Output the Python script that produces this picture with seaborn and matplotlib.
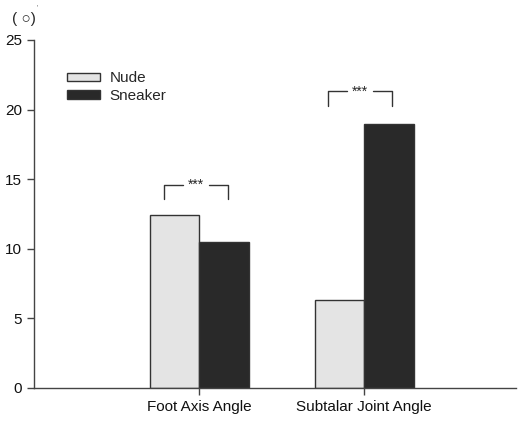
import matplotlib
matplotlib.use("Agg")
import matplotlib.pyplot as plt
import seaborn as sns
import pandas as pd
from matplotlib.patches import Patch

categories = ["Foot Axis Angle", "Subtalar Joint Angle"]
nude = [12.4, 6.3]
sneaker = [10.5, 19.0]
groups = ["Nude", "Sneaker"]
sig_labels = ["***", "***"]

df = pd.DataFrame({
    "angle": categories * 2,
    "cond": ["Nude"] * 2 + ["Sneaker"] * 2,
    "value": nude + sneaker,
})

sns.set_style("ticks")
plt.rcParams["font.family"] = ["Liberation Sans", "DejaVu Sans"]

fig = plt.figure(figsize=(5.26, 4.21), dpi=100)
ax = fig.add_axes([0.0646, 0.0784, 0.9164, 0.8266])
colors = {"Nude": "#e4e4e4", "Sneaker": "#292929"}
sns.barplot(data=df, x="angle", y="value", hue="cond", hue_order=groups,
            palette=colors, width=0.6, edgecolor="#333333", linewidth=1.0,
            ax=ax, legend=False)

ax.set_xlim(-1.0, 1.92)
ax.set_ylim(0, 25)
ax.set_yticks([0, 5, 10, 15, 20, 25])
ax.set_xlabel("")
ax.set_ylabel("")
for s in ["top", "right"]:
    ax.spines[s].set_visible(False)
for s in ["left", "bottom"]:
    ax.spines[s].set_color("#444444")
    ax.spines[s].set_linewidth(1.0)
ax.tick_params(axis="both", labelsize=11, length=5, width=1.0, color="#444444",
               direction="out", labelcolor="#111111")
ax.tick_params(axis="x", pad=4)

# significance brackets
brackets = [(-0.212, 0.176, 13.6, 14.6), (0.782, 1.168, 20.25, 21.3)]
for (x0, x1, yb, yt), lab in zip(brackets, sig_labels):
    xm = (x0 + x1) / 2
    ax.plot([x0, x0, xm - 0.08], [yb, yt, yt], color="#333333", lw=1.0)
    ax.plot([xm + 0.08, x1, x1], [yt, yt, yb], color="#333333", lw=1.0)
    ax.text(xm, yt, lab, ha="center", va="center", fontsize=10)

handles = [Patch(facecolor=colors[g], edgecolor="#333333", label=g) for g in groups]
ax.legend(handles=handles, loc="upper left", bbox_to_anchor=(0.068, 0.91),
          frameon=False, fontsize=11, handlelength=2.2, handleheight=0.5,
          handletextpad=0.6, labelspacing=0.25, borderaxespad=0, borderpad=0)

fig.text(0.022, 0.955, "( \u25cb)", fontsize=11, ha="left", va="center")
fig.text(0.069, 0.99, "'", fontsize=5, ha="left", va="top", color="#555555")

fig.savefig("out.png", dpi=100)
